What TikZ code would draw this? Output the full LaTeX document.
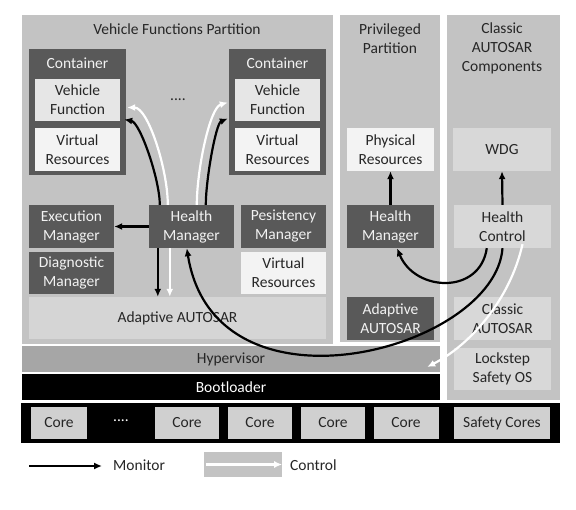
\documentclass[tikz,border=0pt]{standalone}
\usepackage{fontspec}
\setmainfont{Carlito}
\usetikzlibrary{arrows.meta, calc}

\definecolor{panelgray}{HTML}{C3C3C3}
\definecolor{boxdark}{HTML}{595959}
\definecolor{funcgray}{HTML}{E6E6E6}
\definecolor{resgray}{HTML}{F3F3F3}
\definecolor{aagray}{HTML}{D5D5D5}
\definecolor{hypgray}{HTML}{A6A6A6}
\definecolor{classicgray}{HTML}{D8D8D8}
\definecolor{coregray}{HTML}{D0D0D0}

\tikzset{
  box/.style={rectangle, inner sep=0pt, align=center, font=\fontsize{15.5}{19}\selectfont, text=black!85},
  panel/.style={box, fill=panelgray},
  title/.style={box},
  darkbox/.style={box, fill=boxdark, text=white!95!black},
  funcbox/.style={box, fill=funcgray, minimum width=85pt, minimum height=42pt},
  resbox/.style={box, fill=resgray, minimum width=85pt, minimum height=43pt},
  mgrbox/.style={darkbox, minimum width=85pt, minimum height=43pt},
  clbox/.style={box, fill=classicgray, minimum width=97pt, minimum height=43pt},
  corebox/.style={box, fill=coregray, minimum height=32pt},
  monitor/.style={draw=black, line width=2.2pt, -{Latex[length=8pt,width=7pt]}},
  control/.style={draw=white, line width=2.2pt, -{Latex[length=8pt,width=7pt]}},
}

\begin{document}
\begin{tikzpicture}[x=1pt, y=-1pt]
        \useasboundingbox[fill=white] (0,0) rectangle (576,510);

        % partitions
        \node[panel, minimum width=311pt, minimum height=329pt] (vfp) at (177.5,179.5) {};
        \node[title] (vfptitle) at (177,29) {Vehicle Functions Partition};
        \node[panel, minimum width=100pt, minimum height=327pt] (pp) at (390,178.5) {};
        \node[title] (pptitle) at (390,39) {Privileged\\Partition};
        \node[panel, minimum width=113pt, minimum height=385pt] (cp) at (503.5,207.5) {};
        \node[title] (cptitle) at (502,48.5) {Classic\\AUTOSAR\\Components};

        % containers
        \node[darkbox, minimum width=97pt, minimum height=126pt] (c1) at (77.5,112) {};
        \node[darkbox] (c1lbl) at (77.5,63) {Container};
        \node[funcbox] (vf1) at (77.5,100) {Vehicle\\Function};
        \node[resbox] (vr1) at (77.5,149.5) {Virtual\\Resources};
        \node[title] (cdots) at (178,100) {....};
        \node[darkbox, minimum width=97pt, minimum height=126pt] (c2) at (277.5,112) {};
        \node[darkbox] (c2lbl) at (277.5,63) {Container};
        \node[funcbox] (vf2) at (277.5,100) {Vehicle\\Function};
        \node[resbox] (vr2) at (277.5,149.5) {Virtual\\Resources};

        % adaptive platform
        \node[mgrbox] (em) at (71.5,226.5) {Execution\\Manager};
        \node[mgrbox] (hm) at (191.5,226.5) {Health\\Manager};
        \node[mgrbox] (pm) at (283.5,226.5) {Pesistency\\Manager};
        \node[mgrbox, minimum height=42pt] (dm) at (71.5,273) {Diagnostic\\Manager};
        \node[resbox, minimum height=42pt] (vr3) at (283.5,273) {Virtual\\Resources};
        \node[box, fill=aagray, minimum width=297pt, minimum height=42pt] (aa) at (177.5,318) {Adaptive AUTOSAR};

        % privileged partition
        \node[resbox, minimum width=87pt] (physr) at (390.5,149.5) {Physical\\Resources};
        \node[mgrbox, minimum width=87pt] (phm) at (390.5,226.5) {Health\\Manager};
        \node[mgrbox, minimum width=87pt] (paa) at (390.5,318.5) {Adaptive\\AUTOSAR};

        % classic partition
        \node[clbox, minimum width=98pt] (wdg) at (502,149.5) {WDG};
        \node[clbox] (hc) at (502.5,226.5) {Health\\Control};
        \node[clbox] (ca) at (502.5,318.5) {Classic\\AUTOSAR};
        \node[clbox, minimum height=42pt] (ls) at (502.5,369) {Lockstep\\Safety OS};

        % hypervisor, bootloader, cores
        \node[box, fill=hypgray, minimum width=418pt, minimum height=26pt] (hyp) at (231,359) {Hypervisor};
        \node[box, fill=black, text=white, minimum width=418pt, minimum height=26pt] (boot) at (231,387) {Bootloader};
        \node[box, fill=black, minimum width=539pt, minimum height=40pt] (cores) at (290.5,423) {};
        \node[corebox, minimum width=56pt] (core1) at (59,423) {Core};
        \node[box, text=white] (coredots) at (121,421) {....};
        \node[corebox, minimum width=64pt] (core2) at (187,423) {Core};
        \node[corebox, minimum width=64pt] (core3) at (260,423) {Core};
        \node[corebox, minimum width=64pt] (core4) at (333,423) {Core};
        \node[corebox, minimum width=65pt] (core5) at (406,423) {Core};
        \node[corebox, minimum width=96pt] (sc) at (502,423) {Safety Cores};

        % arrows
        \draw[control] ($(hm.north west)+(19,0)$) .. controls +(0,-35) and +(21,0) .. ($(c1.east)+(1,-4.5)$);
        \draw[monitor] ($(hm.north west)+(11,0)$) .. controls +(0,-25) and +(16,3) .. ($(c1.east)+(-2,7.5)$);
        \draw[control] ($(hm.north west)+(48,0)$) .. controls +(0,-35) and +(-18,5) .. ($(c2.west)+(-1,-9.5)$);
        \draw[monitor] ($(hm.north west)+(57,0)$) .. controls +(0,-25) and +(-12,5) .. ($(c2.west)+(-1,6.5)$);
        \draw[monitor] (hm.west) -- (em.east);
        \coordinate (hmdown) at ($(hm.south west)+(9,0)$);
        \coordinate (hmctl) at ($(hm.south west)+(21,0)$);
        \draw[monitor] (hmdown) -- (hmdown |- aa.north);
        \draw[control] (hmctl) -- (hmctl |- aa.north);

        \draw[monitor] (phm.north) -- (physr.south);
        \draw[monitor] (hc.north) -- (wdg.south);
        \draw[monitor] ($(hc.south west)+(33,0)$) .. controls (480,295) and (415,292) .. ($(phm.south)+(6.5,0)$);
        \draw[monitor] (hc.south) .. controls (495,350) and (215,425) .. ($(hm.south west)+(38,0)$);
        \draw[control] ($(hc.south)+(20,-4)$) .. controls (510,300) and (470,345) .. ($(hyp.east)+(-13,8)$);

        % legend
        \coordinate (mon1) at (29,466);
        \coordinate (mon2) at (102,466);
        \draw[monitor] (mon1) -- (mon2);
        \node[box, anchor=west] (monlbl) at (113,465) {Monitor};
        \node[box, fill=panelgray, minimum width=78pt, minimum height=25pt] (ctlbox) at (243,464.5) {};
        \draw[control] ($(ctlbox.west)+(2,0)$) -- (ctlbox.east);
        \node[box, anchor=west] (ctllbl) at (290,465) {Control};
    \end{tikzpicture}
\end{document}
